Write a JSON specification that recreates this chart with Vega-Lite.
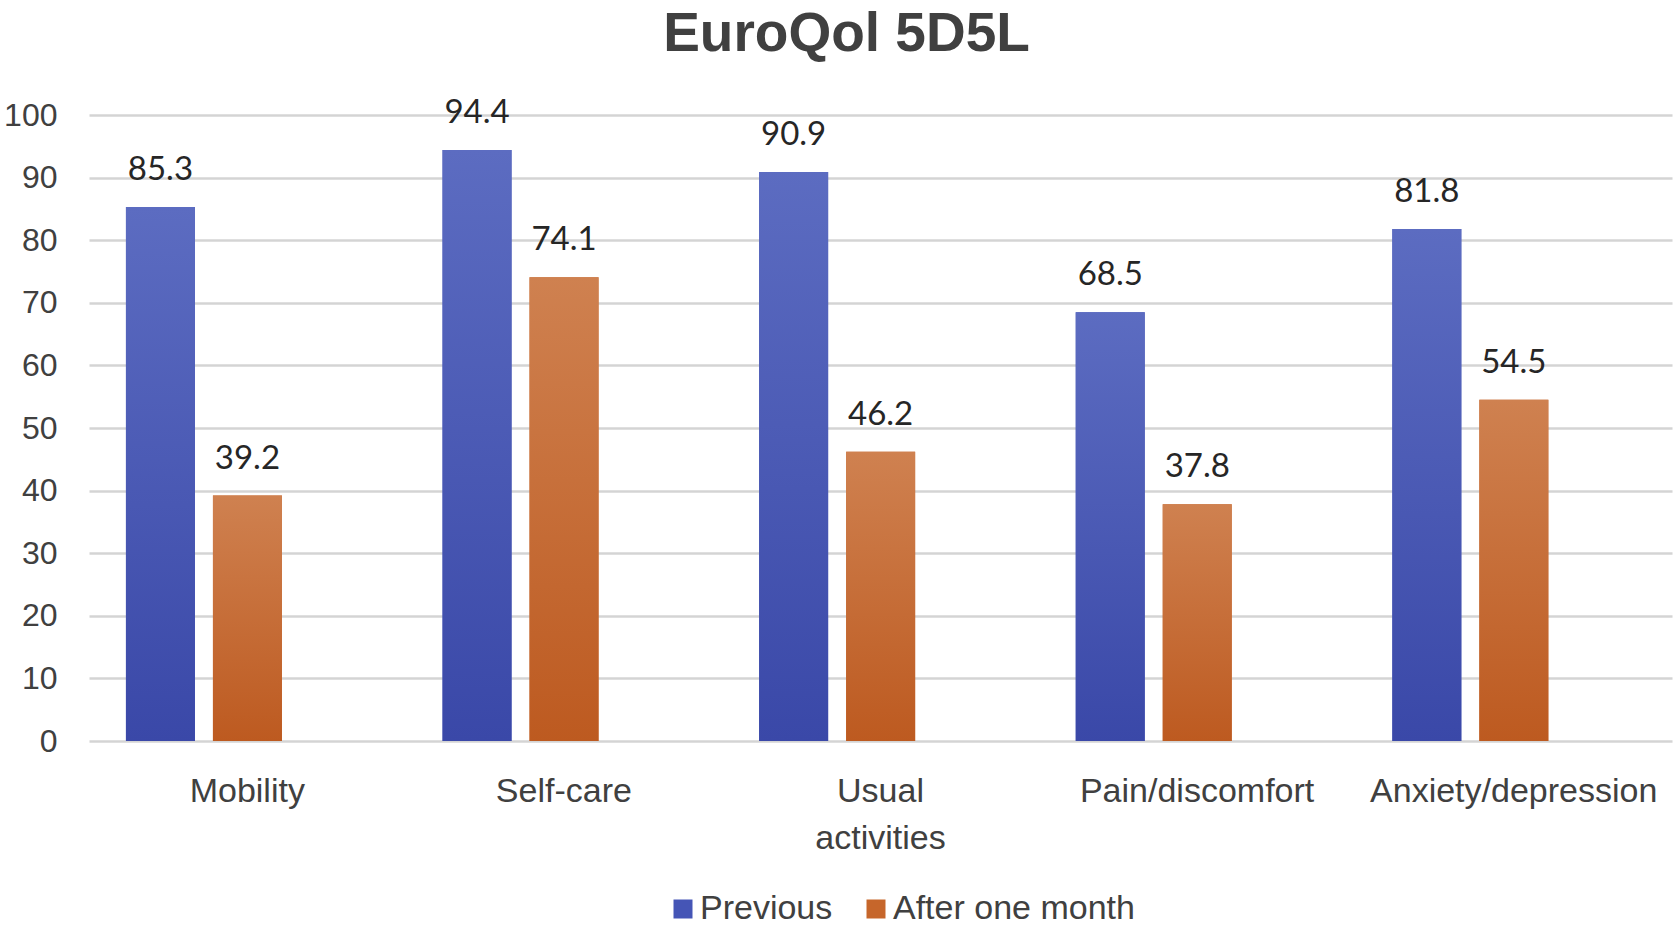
{
  "$schema": "https://vega.github.io/schema/vega-lite/v6.json",
  "width": 1583,
  "height": 626,
  "autosize": "none",
  "padding": {"left": 89, "top": 115, "right": 3, "bottom": 189},
  "background": "white",
  "title": {
    "text": "EuroQol 5D5L",
    "font": "Liberation Sans",
    "fontSize": 55,
    "fontWeight": "bold",
    "color": "#404040",
    "anchor": "middle",
    "baseline": "alphabetic",
    "offset": 48,
    "dy": 57,
    "dx": -34
  },
  "config": {
    "view": {"stroke": null},
    "font": "Liberation Sans"
  },
  "data": {
    "values": [
      {"dimension": "Mobility", "series": "Previous", "value": 85.3},
      {"dimension": "Mobility", "series": "After one month", "value": 39.2},
      {"dimension": "Self-care", "series": "Previous", "value": 94.4},
      {"dimension": "Self-care", "series": "After one month", "value": 74.1},
      {"dimension": "Usual activities", "series": "Previous", "value": 90.9},
      {"dimension": "Usual activities", "series": "After one month", "value": 46.2},
      {"dimension": "Pain/discomfort", "series": "Previous", "value": 68.5},
      {"dimension": "Pain/discomfort", "series": "After one month", "value": 37.8},
      {"dimension": "Anxiety/depression", "series": "Previous", "value": 81.8},
      {"dimension": "Anxiety/depression", "series": "After one month", "value": 54.5}
    ]
  },
  "encoding": {
    "x": {
      "field": "dimension",
      "type": "nominal",
      "sort": null,
      "title": null,
      "scale": {"paddingInner": 0, "paddingOuter": 0},
      "axis": {
        "domain": false,
        "ticks": false,
        "labelAngle": 0,
        "labelFontSize": 34,
        "labelColor": "#404040",
        "labelPadding": 33,
        "labelLineHeight": 47,
        "labelLimit": 400,
        "labelExpr": "datum.label == 'Usual activities' ? ['Usual', 'activities'] : datum.label"
      }
    },
    "xOffset": {
      "field": "series",
      "type": "nominal",
      "sort": ["Previous", "After one month"],
      "scale": {"paddingInner": 0.207, "paddingOuter": 0.923, "align": 0.23}
    },
    "y": {
      "field": "value",
      "type": "quantitative",
      "title": null,
      "scale": {"domain": [0, 100], "nice": false},
      "axis": {
        "values": [0, 10, 20, 30, 40, 50, 60, 70, 80, 90, 100],
        "domain": false,
        "ticks": false,
        "labelFontSize": 32,
        "labelColor": "#404040",
        "labelPadding": 32,
        "gridColor": "#d4d4d4",
        "gridWidth": 2.5
      }
    }
  },
  "layer": [
    {
      "mark": {"type": "bar"},
      "encoding": {
        "color": {
          "field": "series",
          "type": "nominal",
          "sort": ["Previous", "After one month"],
          "scale": {"domain": ["Previous", "After one month"], "range": ["#4555b6", "#c6662b"]},
          "legend": {
            "title": null,
            "orient": "none",
            "direction": "horizontal",
            "legendX": 577,
            "legendY": 777,
            "symbolType": "square",
            "symbolSize": 361,
            "symbolStrokeWidth": 0,
            "symbolOpacity": 1,
            "labelFontSize": 34,
            "labelColor": "#404040",
            "labelOffset": 0,
            "labelLimit": 400,
            "columnPadding": 26
          }
        }
      }
    },
    {
      "mark": {"type": "bar"},
      "encoding": {
        "fill": {
          "condition": {
            "test": "datum.series === 'Previous'",
            "value": {
              "gradient": "linear",
              "x1": 0, "y1": 0, "x2": 0, "y2": 1,
              "stops": [
                {"offset": 0, "color": "#5c6cc1"},
                {"offset": 1, "color": "#3a48a8"}
              ]
            }
          },
          "value": {
            "gradient": "linear",
            "x1": 0, "y1": 0, "x2": 0, "y2": 1,
            "stops": [
              {"offset": 0, "color": "#cf8150"},
              {"offset": 1, "color": "#bd5a20"}
            ]
          }
        }
      }
    },
    {
      "mark": {
        "type": "text",
        "font": "Lato",
        "fontSize": 33,
        "color": "#262626",
        "baseline": "alphabetic",
        "dy": -27
      },
      "encoding": {
        "text": {"field": "value", "type": "quantitative", "format": ".1f"}
      }
    }
  ]
}
